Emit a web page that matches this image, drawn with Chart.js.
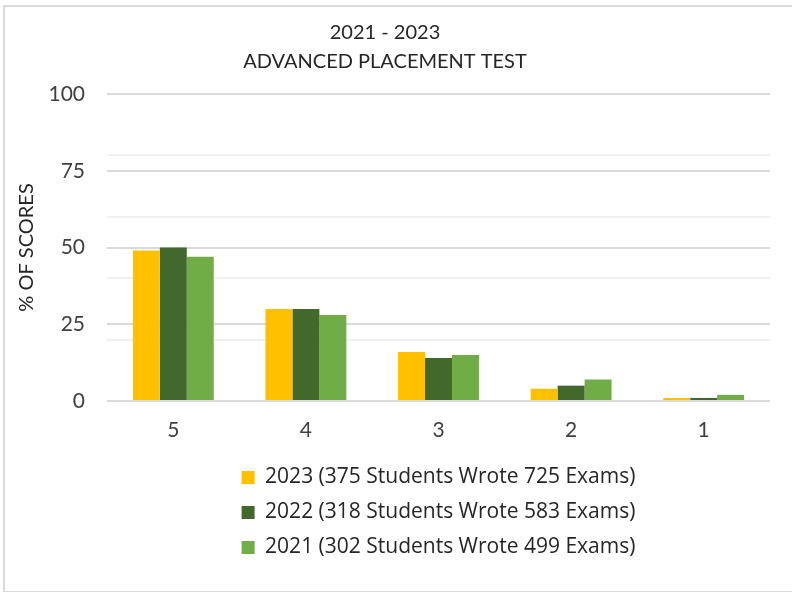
<!DOCTYPE html>
<html>
<head>
<meta charset="utf-8">
<script src="https://cdn.jsdelivr.net/npm/chart.js@4.4.1/dist/chart.umd.min.js"></script>
<style>
  html, body { margin: 0; padding: 0; background: #fff; }
  #frame {
    position: absolute; left: 3px; top: 5px; width: 800px; height: 584px;
    border: 2px solid #d9d9d9; box-sizing: content-box;
  }
  #wrap { position: absolute; left: 0; top: 0; width: 792px; height: 592px; }
</style>
</head>
<body>
<div id="frame"></div>
<div id="wrap"><canvas id="chart" width="792" height="592"></canvas></div>
<script>
const categories = ['5', '4', '3', '2', '1'];
const seriesNames = [
    '2023 (375 Students Wrote 725 Exams)',
    '2022 (318 Students Wrote 583 Exams)',
    '2021 (302 Students Wrote 499 Exams)'
];
const scores2023 = [49, 30, 16, 4, 1];
const scores2022 = [50, 30, 14, 5, 1];
const scores2021 = [47, 28, 15, 7, 2];
const yTicks = [0, 25, 50, 75, 100];

const FONT = 'Lato';

const ctx = document.getElementById('chart').getContext('2d');
new Chart(ctx, {
    type: 'bar',
    data: {
        labels: categories,
        datasets: [
            { label: seriesNames[0], data: scores2023, backgroundColor: '#FFC000' },
            { label: seriesNames[1], data: scores2022, backgroundColor: '#43682B' },
            { label: seriesNames[2], data: scores2021, backgroundColor: '#70AD47' }
        ]
    },
    options: {
        responsive: false,
        animation: false,
        layout: { padding: { top: 6, left: 0, right: 22, bottom: 24 } },
        datasets: {
            bar: { categoryPercentage: 0.61, barPercentage: 1.0 }
        },
        plugins: {
            tooltip: { enabled: false },
            title: {
                display: true,
                text: ['2021 - 2023', 'ADVANCED PLACEMENT TEST'],
                color: '#262626',
                font: { family: FONT, size: 20, weight: 'normal', lineHeight: 1.45 },
                padding: { top: 12, bottom: 18 }
            },
            legend: {
                position: 'bottom',
                fullSize: false,
                labels: {
                    color: '#262626',
                    font: { family: 'Open Sans', size: 21 },
                    boxWidth: 13,
                    boxHeight: 13,
                    padding: 14
                }
            }
        },
        scales: {
            x: {
                grid: { display: false },
                border: { display: false },
                ticks: { color: '#404040', font: { family: FONT, size: 21 }, padding: 9 },
                afterFit: (s) => { s.height = 52; }
            },
            y2: {
                position: 'left',
                min: 0,
                max: 100,
                ticks: { display: false, stepSize: 20 },
                grid: { color: '#f0f0f0', lineWidth: 2, drawTicks: false },
                border: { display: false },
                afterFit: (s) => { s.width = 0; }
            },
            y: {
                position: 'left',
                min: 0,
                max: 100,
                afterBuildTicks: (s) => { s.ticks = yTicks.map(v => ({ value: v })); },
                ticks: { color: '#404040', font: { family: FONT, size: 21 }, padding: 22 },
                grid: { color: '#d9d9d9', lineWidth: 2, drawTicks: false },
                border: { display: false },
                title: {
                    display: true,
                    text: '% OF SCORES',
                    color: '#262626',
                    font: { family: FONT, size: 20 },
                    padding: { top: 15, bottom: 0 }
                },
                afterFit: (s) => { s.width = 107; }
            }
        }
    }
});
</script>
</body>
</html>
